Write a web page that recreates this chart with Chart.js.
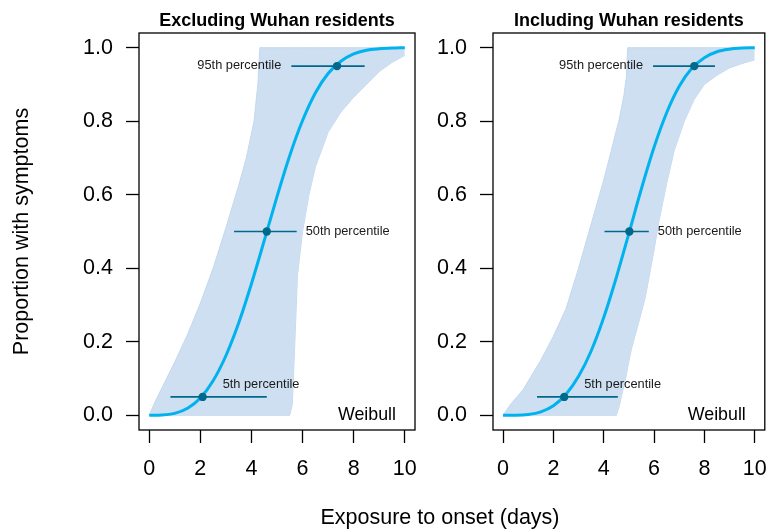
<!DOCTYPE html>
<html>
<head>
<meta charset="utf-8">
<script src="https://cdn.jsdelivr.net/npm/chart.js@4/dist/chart.umd.min.js"></script>
<style>
  html, body { margin: 0; padding: 0; background: #fff; }
  #wrap { position: relative; width: 769px; height: 529px; }
  #wrap canvas { position: absolute; left: 0; top: 0; }
</style>
</head>
<body>
<div id="wrap">
  <canvas id="exclChart" width="769" height="529"></canvas>
  <canvas id="inclChart" width="769" height="529"></canvas>
</div>
<script>
// ── dados ────────────────────────────────────────────────────
const xTicks = [0, 2, 4, 6, 8, 10];
const yTicks = [0, 0.2, 0.4, 0.6, 0.8, 1.0];

// curva Weibull ajustada, amostrada a cada 0.5 dia
const fitX    = [0, 0.5, 1, 1.5, 2, 2.5, 3, 3.5, 4, 4.5, 5, 5.5, 6, 6.5, 7, 7.5, 8, 8.5, 9, 9.5, 10];
const exclFit = [0, 0.0006, 0.0052, 0.019, 0.047, 0.094, 0.162, 0.251, 0.358, 0.475, 0.595, 0.707, 0.802, 0.877, 0.930, 0.963, 0.983, 0.993, 0.997, 0.999, 1.0];
const inclFit = [0, 0.0002, 0.0023, 0.0095, 0.026, 0.057, 0.106, 0.175, 0.266, 0.375, 0.495, 0.617, 0.729, 0.823, 0.895, 0.944, 0.973, 0.989, 0.996, 0.999, 1.0];

// faixa das curvas bootstrap (envelope superior / inferior)
const exclBandX  = [0, 0.25, 0.5, 1, 1.5, 2, 2.5, 3, 3.5, 3.8, 4.1, 4.25, 4.33, 5, 5.5, 5.6, 5.7, 5.8, 6, 6.25, 6.5, 7, 7.5, 8, 8.5, 9, 9.5, 10];
const exclBandHi = [0, 0.04, 0.075, 0.145, 0.22, 0.305, 0.40, 0.51, 0.625, 0.70, 0.80, 0.90, 1, 1, 1, 1, 1, 1, 1, 1, 1, 1, 1, 1, 1, 1, 1, 1];
const exclBandLo = [0, 0, 0, 0, 0, 0, 0, 0, 0, 0, 0, 0, 0, 0, 0, 0.03, 0.20, 0.38, 0.50, 0.60, 0.675, 0.77, 0.825, 0.865, 0.90, 0.935, 0.96, 0.979];

const inclBandX  = [0, 0.3, 0.8, 1.5, 2, 2.5, 3, 3.5, 4, 4.3, 4.5, 4.6, 4.7, 4.8, 4.9, 4.95, 5.1, 5.4, 5.65, 6, 6.2, 6.5, 6.8, 7.2, 7.6, 8, 8.5, 9, 9.5, 10];
const inclBandHi = [0, 0.03, 0.07, 0.15, 0.215, 0.29, 0.40, 0.52, 0.64, 0.72, 0.775, 0.80, 0.835, 0.87, 0.92, 1, 1, 1, 1, 1, 1, 1, 1, 1, 1, 1, 1, 1, 1, 1];
const inclBandLo = [0, 0, 0, 0, 0, 0, 0, 0, 0, 0, 0, 0.02, 0.05, 0.08, 0.11, 0.13, 0.18, 0.255, 0.32, 0.45, 0.53, 0.63, 0.72, 0.80, 0.86, 0.90, 0.925, 0.945, 0.957, 0.967];

// percentis com intervalo
const pctLevels = [0.05, 0.5, 0.95];
const pctLabels = ['5th percentile', '50th percentile', '95th percentile'];
const exclPct   = [2.09, 4.60, 7.35];
const exclPctLo = [0.83, 3.32, 5.56];
const exclPctHi = [4.60, 5.77, 8.43];
const inclPct   = [2.43, 5.02, 7.60];
const inclPctLo = [1.35, 4.03, 5.96];
const inclPctHi = [4.56, 5.79, 8.42];

const FONT = "'Liberation Sans', Arial, sans-serif";
const FIT_COLOR  = '#00B2EE';
const PCT_COLOR  = '#00688B';
const BAND_FILL  = '#CDDFF1';
const BAND_EDGE  = '#C3D8EE';

Chart.defaults.font.family = FONT;
Chart.defaults.color = '#000';

const pts = (xs, ys) => xs.map((x, i) => ({ x, y: ys[i] }));

// ── caixa, títulos e rótulos de texto ────────────────────────
const panelDecor = {
  id: 'panelDecor',
  afterDraw(chart, args, opts) {
    const { ctx, chartArea: a, scales: { x, y } } = chart;
    ctx.save();
    ctx.strokeStyle = '#000';
    ctx.lineWidth = 1.3;
    ctx.strokeRect(a.left, a.top, a.right - a.left, a.bottom - a.top);

    ctx.fillStyle = '#000';
    ctx.font = `bold 18px ${FONT}`;
    ctx.textAlign = 'center';
    ctx.textBaseline = 'alphabetic';
    ctx.fillText(opts.title, (a.left + a.right) / 2, a.top - 7);

    ctx.font = `17.8px ${FONT}`;
    ctx.textAlign = 'right';
    ctx.textBaseline = 'middle';
    ctx.fillText(opts.dist, a.right - 19, y.getPixelForValue(0));

    ctx.font = `12.8px ${FONT}`;
    ctx.fillStyle = '#1a1a1a';
    const p = opts.pct;
    // 5th: acima da barra
    ctx.textAlign = 'left';
    ctx.fillText(pctLabels[0], x.getPixelForValue(p.mid[0]) + 20, y.getPixelForValue(pctLevels[0]) - 12);
    // 50th: à direita da barra
    ctx.fillText(pctLabels[1], x.getPixelForValue(p.hi[1]) + 9, y.getPixelForValue(pctLevels[1]));
    // 95th: à esquerda da barra
    ctx.textAlign = 'right';
    ctx.fillText(pctLabels[2], x.getPixelForValue(p.lo[2]) - 10, y.getPixelForValue(pctLevels[2]) - 1);

    if (opts.xTitle) {
      ctx.fillStyle = '#000';
      ctx.font = `21.5px ${FONT}`;
      ctx.textAlign = 'center';
      ctx.fillText(opts.xTitle, 440, 518);
    }
    ctx.restore();
  },
};

function buildPanel(canvasId, cfg) {
  const bars = pctLevels.map((lvl, i) => ({
    type: 'line',
    data: [{ x: cfg.lo[i], y: lvl }, { x: cfg.hi[i], y: lvl }],
    borderColor: PCT_COLOR, borderWidth: 1.6, pointRadius: 0, order: 1,
  }));

  return new Chart(document.getElementById(canvasId), {
    type: 'line',
    data: {
      datasets: [
        {
          data: pctLevels.map((lvl, i) => ({ x: cfg.mid[i], y: lvl })),
          showLine: false, pointRadius: 4.2, pointBackgroundColor: PCT_COLOR,
          pointBorderColor: PCT_COLOR, pointBorderWidth: 0, order: 0,
        },
        ...bars,
        {
          data: pts(fitX, cfg.fit),
          borderColor: FIT_COLOR, borderWidth: 3, pointRadius: 0,
          cubicInterpolationMode: 'monotone', order: 2,
        },
        {
          data: pts(cfg.bandX, cfg.bandHi),
          borderColor: BAND_EDGE, borderWidth: 1, pointRadius: 0,
          backgroundColor: BAND_FILL, fill: '+1', order: 3,
        },
        {
          data: pts(cfg.bandX, cfg.bandLo),
          borderColor: BAND_EDGE, borderWidth: 1, pointRadius: 0, order: 4,
        },
      ],
    },
    options: {
      responsive: false, animation: false,
      layout: { padding: cfg.padding },
      plugins: {
        legend: { display: false },
        tooltip: { enabled: false },
        panelDecor: { title: cfg.title, dist: 'Weibull', pct: cfg, xTitle: cfg.xTitle },
      },
      scales: {
        x: {
          type: 'linear', min: -0.4, max: 10.4,
          afterBuildTicks: s => { s.ticks = xTicks.map(v => ({ value: v })); },
          afterFit: s => { s.height = 99; s.paddingLeft = 0; s.paddingRight = 0; },
          ticks: { font: { size: 21.5 }, color: '#000', padding: 13, maxRotation: 0, callback: v => String(v) },
          grid: { drawOnChartArea: false, tickLength: 13, tickColor: '#000', tickWidth: 1.3 },
          border: { display: false },
        },
        y: {
          type: 'linear', min: -0.04, max: 1.04,
          afterBuildTicks: s => { s.ticks = yTicks.map(v => ({ value: v })); },
          afterFit: s => { s.width = cfg.yWidth; s.paddingTop = 0; s.paddingBottom = 0; },
          ticks: { font: { size: 21.5 }, color: '#000', padding: 13, callback: v => v.toFixed(1) },
          grid: { drawOnChartArea: false, tickLength: 13, tickColor: '#000', tickWidth: 1.3 },
          border: { display: false },
          title: {
            display: !!cfg.yTitle, text: cfg.yTitle || '',
            font: { size: 21.5 }, color: '#000', padding: { top: 9, bottom: 0 },
          },
        },
      },
    },
    plugins: [panelDecor],
  });
}

buildPanel('exclChart', {
  title: 'Excluding Wuhan residents',
  fit: exclFit, bandX: exclBandX, bandHi: exclBandHi, bandLo: exclBandLo,
  mid: exclPct, lo: exclPctLo, hi: exclPctHi,
  padding: { left: 0, right: 354, top: 33, bottom: 0 }, yWidth: 139,
  yTitle: 'Proportion with symptoms', xTitle: 'Exposure to onset (days)',
});

buildPanel('inclChart', {
  title: 'Including Wuhan residents',
  fit: inclFit, bandX: inclBandX, bandHi: inclBandHi, bandLo: inclBandLo,
  mid: inclPct, lo: inclPctLo, hi: inclPctHi,
  padding: { left: 420, right: 2, top: 33, bottom: 0 }, yWidth: 73,
});
</script>
</body>
</html>
